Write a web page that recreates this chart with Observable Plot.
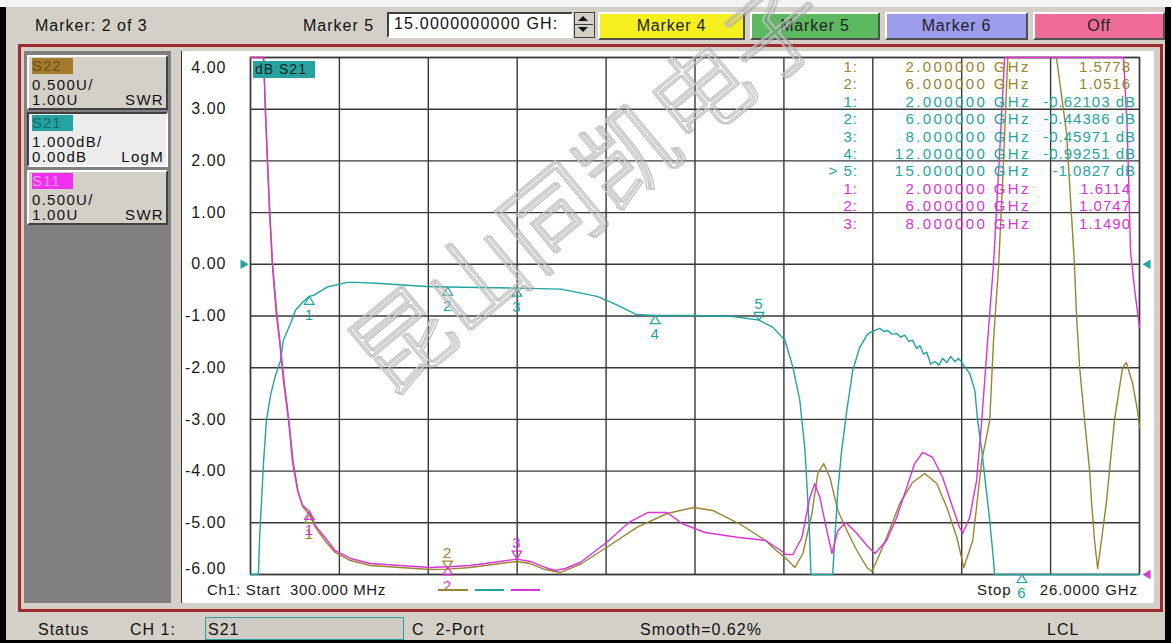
<!DOCTYPE html>
<html>
<head>
<meta charset="utf-8">
<script src="https://cdn.jsdelivr.net/npm/d3@7"></script>
<script src="https://cdn.jsdelivr.net/npm/@observablehq/plot@0.6"></script>
<style>
html,body{margin:0;padding:0;}
body{width:1171px;height:643px;overflow:hidden;position:relative;background:#d4d0c8;font-family:"Liberation Sans",Arial,sans-serif;color:#111;}
.a{position:absolute;white-space:pre;}
.tt{font-size:16px;letter-spacing:1px;line-height:18px;}
.btn{position:absolute;top:12px;height:24px;border:2px solid;border-color:#fff #505050 #505050 #fff;font-size:16px;letter-spacing:0.8px;text-align:center;line-height:24px;color:#222;}
.tb{position:absolute;left:27px;width:137px;height:51px;border:2px solid;border-color:#fff #404040 #404040 #fff;background:#d4d0c8;}
.lbl{position:absolute;left:3px;top:1px;width:41px;height:16px;font-size:15px;letter-spacing:1px;line-height:16px;}
.tl{position:absolute;font-size:15px;letter-spacing:1.3px;line-height:14px;color:#111;}
#chart{position:absolute;left:182px;top:51px;}
#chart svg text{letter-spacing:1px;}
</style>
</head>
<body>
<!-- window chrome -->
<div class="a" style="left:0;top:0;width:1171px;height:7px;background:#f4f4f4"></div>
<div class="a" style="left:0;top:7px;width:6px;height:636px;background:#000"></div>
<div class="a" style="left:1165px;top:7px;width:6px;height:636px;background:#000"></div>
<div class="a" style="left:0;top:640px;width:1171px;height:3px;background:#000"></div>

<!-- toolbar -->
<div class="a tt" style="left:35px;top:17px">Marker: 2 of 3</div>
<div class="a tt" style="left:303px;top:17px">Marker 5</div>
<div class="a" style="left:387px;top:12px;width:182px;height:22px;background:#fff;border:2px solid;border-color:#404040 #fff #fff #404040"></div>
<div class="a tt" style="left:394px;top:15px;letter-spacing:1.2px">15.0000000000 GH:</div>
<div class="a" style="left:574px;top:12px;width:19px;height:24px;background:#d4d0c8;border:1px solid #404040"></div>
<div class="a" style="left:578px;top:16px;width:0;height:0;border-left:5px solid transparent;border-right:5px solid transparent;border-bottom:5px solid #111"></div>
<div class="a" style="left:578px;top:27px;width:0;height:0;border-left:5px solid transparent;border-right:5px solid transparent;border-top:5px solid #111"></div>
<div class="a" style="left:575px;top:24px;width:18px;height:1px;background:#404040"></div>
<div class="btn" style="left:598px;width:143px;background:#f6f01e">Marker 4</div>
<div class="btn" style="left:750px;width:126px;background:#5cb960">Marker 5</div>
<div class="btn" style="left:885px;width:139px;background:#9c9ced">Marker 6</div>
<div class="btn" style="left:1033px;width:128px;background:#ef6b98">Off</div>

<!-- main frame -->
<div class="a" style="left:18px;top:44px;width:1139px;height:562px;border:3px solid #9a2c2c;box-shadow:inset 0 0 0 1px #e6c4c4"></div>
<div class="a" style="left:24px;top:51px;width:147px;height:552px;background:#808080"></div>
<div class="a" style="left:181px;top:51px;width:972px;height:552px;background:#fff;border-left:1px solid #333"></div>

<!-- trace boxes -->
<div class="tb" style="top:55px">
  <div class="lbl" style="background:#a47b2c;color:#6e4c10">S22</div>
  <div class="tl" style="left:3px;top:21px">0.500U/</div>
  <div class="tl" style="left:3px;top:36px">1.00U</div>
  <div class="tl" style="right:2px;top:36px">SWR</div>
</div>
<div class="tb" style="top:112px;background:#ececec;border-color:#404040 #fff #fff #404040">
  <div class="lbl" style="background:#24a3a0;color:#126a68">S21</div>
  <div class="tl" style="left:3px;top:21px">1.000dB/</div>
  <div class="tl" style="left:3px;top:36px">0.00dB</div>
  <div class="tl" style="right:2px;top:36px">LogM</div>
</div>
<div class="tb" style="top:170px">
  <div class="lbl" style="background:#f030f0;color:#ff9cff">S11</div>
  <div class="tl" style="left:3px;top:21px">0.500U/</div>
  <div class="tl" style="left:3px;top:36px">1.00U</div>
  <div class="tl" style="right:2px;top:36px">SWR</div>
</div>

<div id="chart"></div>
<div id="overlay"></div>

<!-- status bar -->
<div class="a" style="left:6px;top:612px;width:1159px;height:28px;background:#d4d0c8"></div>
<div class="a tt" style="left:38px;top:621px">Status</div>
<div class="a tt" style="left:130px;top:621px">CH 1:</div>
<div class="a" style="left:205px;top:617px;width:197px;height:21px;border:1px solid #2aa3a0;background:#d0ccc4"></div>
<div class="a tt" style="left:208px;top:621px">S21</div>
<div class="a tt" style="left:412px;top:621px">C  2-Port</div>
<div class="a tt" style="left:640px;top:621px">Smooth=0.62%</div>
<div class="a tt" style="left:1047px;top:621px">LCL</div>

<svg id="wm" class="a" style="left:0;top:0;pointer-events:none" width="1171" height="643"></svg>

<script>
// ---------- data ----------
const startGHz = 0.3, stopGHz = 26;
const dispTop = 4, dispBottom = -6;
const swrRef = 1.0, swrPerDiv = 0.5;

const yTickValues = [4, 3, 2, 1, 0, -1, -2, -3, -4, -5, -6];
const yTickLabels = ["4.00", "3.00", "2.00", "1.00", "0.00", "-1.00", "-2.00", "-3.00", "-4.00", "-5.00", "-6.00"];

// S21 (LogM, dB)
const freqS21 = [0.30,0.53,0.56,0.62,0.68,0.76,0.88,1.02,1.17,1.25,1.46,1.60,1.80,2.00,2.12,2.52,3.10,3.39,4.05,5.38,6.00,6.94,8.00,9.28,10.32,10.84,11.45,12.00,13.12,14.25,15.00,15.40,15.75,15.98,16.18,16.33,16.41,16.47,16.50,17.13,17.19,17.28,17.39,17.54,17.71,17.91,18.12,18.20,18.35,18.49,18.61,18.72,18.84,18.98,19.10,19.21,19.33,19.44,19.56,19.65,19.76,19.85,19.96,20.08,20.20,20.31,20.43,20.54,20.66,20.77,20.86,21.09,21.24,21.32,21.44,21.67,21.78,21.81,26.00];
const dbS21 = [-8,-8,-5.34,-4.56,-3.79,-3.02,-2.53,-2.15,-1.86,-1.47,-1.14,-0.89,-0.74,-0.62,-0.60,-0.44,-0.35,-0.35,-0.37,-0.43,-0.44,-0.45,-0.46,-0.48,-0.62,-0.77,-0.97,-0.99,-0.99,-1.01,-1.08,-1.22,-1.47,-1.99,-2.63,-3.60,-4.56,-5.34,-8,-8,-5.34,-4.37,-3.60,-2.82,-2.05,-1.61,-1.37,-1.32,-1.28,-1.24,-1.30,-1.28,-1.35,-1.34,-1.41,-1.37,-1.49,-1.47,-1.63,-1.57,-1.74,-1.70,-1.93,-1.88,-1.95,-1.82,-1.90,-1.78,-1.88,-1.82,-1.90,-2.11,-2.44,-3.02,-3.60,-4.95,-5.73,-8,-8];

// S11 (SWR)
const freqS11 = [0.30,0.65,0.68,0.73,0.79,0.85,0.93,1.05,1.14,1.25,1.40,1.51,1.66,1.80,2.00,2.18,2.47,2.75,3.19,3.77,4.63,5.50,6.00,6.65,7.52,8.00,8.38,8.82,9.11,9.40,9.83,10.59,11.24,11.79,12.34,12.77,13.44,14.42,15.19,15.63,15.78,15.98,16.24,16.47,16.61,16.76,16.96,17.11,17.28,17.51,17.83,18.12,18.35,18.69,18.98,19.27,19.50,19.73,20.02,20.31,20.60,20.80,20.89,21.09,21.29,21.44,21.61,21.78,21.96,22.10,23.80,25.54,25.65,25.74,25.86,26.00];
const swrS11 = [7.0,6.1,6.0,5.49,5.00,4.50,4.00,3.50,3.26,2.88,2.49,2.10,1.81,1.67,1.6114,1.47,1.35,1.23,1.155,1.106,1.087,1.068,1.0747,1.087,1.126,1.149,1.126,1.068,1.039,1.058,1.116,1.309,1.503,1.600,1.600,1.493,1.406,1.358,1.329,1.232,1.193,1.193,1.358,1.745,1.880,1.745,1.426,1.203,1.426,1.503,1.397,1.280,1.203,1.329,1.551,1.841,2.073,2.180,2.132,1.938,1.648,1.455,1.397,1.551,1.909,2.489,3.263,4.00,5.10,6.0,7.5,6.05,5.27,4.13,3.75,3.39];

// S22 (SWR)
const freqS22 = [0.30,0.66,0.68,0.73,0.79,0.86,0.94,1.07,1.15,1.27,1.41,1.53,1.67,1.82,2.00,2.18,2.47,2.75,3.19,3.77,4.63,5.50,6.00,6.65,7.52,8.00,8.38,8.82,9.25,9.83,10.59,11.47,12.34,13.11,13.66,14.42,15.19,15.40,15.78,16.04,16.27,16.53,16.70,16.87,17.05,17.28,17.54,17.83,18.12,18.26,18.41,18.69,19.07,19.44,19.79,20.14,20.43,20.72,20.92,21.18,21.44,21.67,21.78,21.93,22.07,22.19,22.90,23.60,23.89,24.12,24.18,24.27,24.41,24.56,24.61,24.70,24.79,24.90,25.05,25.13,25.28,25.51,25.62,25.80,25.94,26.00];
const swrS22 = [7.0,6.1,6.0,5.49,5.00,4.50,4.00,3.50,3.26,2.88,2.49,2.10,1.81,1.65,1.5778,1.455,1.319,1.213,1.135,1.087,1.068,1.048,1.0516,1.068,1.106,1.126,1.106,1.048,1.019,1.097,1.261,1.455,1.590,1.648,1.619,1.493,1.329,1.261,1.155,1.068,1.203,1.590,1.977,2.073,1.938,1.619,1.426,1.232,1.068,1.029,1.135,1.358,1.687,1.890,1.977,1.880,1.648,1.358,1.068,1.329,2.103,2.489,3.263,4.00,5.00,6.0,7.5,6.0,5.27,4.00,3.50,3.00,2.50,2.00,1.716,1.329,1.058,1.329,1.716,2.00,2.50,3.00,3.05,2.85,2.59,2.42];

// marker table
const markerTrace = ["S22","S22","S21","S21","S21","S21","S21","S11","S11","S11"];
const markerNum   = ["1","2","1","2","3","4","5","1","2","3"];
const markerFreq  = [2, 6, 2, 6, 8, 12, 15, 2, 6, 8];
const markerVal   = [1.5778, 1.0516, -0.62103, -0.44386, -0.45971, -0.99251, -1.0827, 1.6114, 1.0747, 1.1490];
const activeMarker = {S22: "2", S21: "5", S11: "3"};
const offScreenMarkerTrace = ["S21"];
const offScreenMarkerNum = ["6"];
const offScreenMarkerFreq = [22.6];

const traceColor = {S22: "#9a8431", S21: "#1fa4a0", S11: "#d934d6"};
const traceKind = {S22: "swr", S21: "db", S11: "swr"};

// ---------- helpers ----------
const clampDisp = v => Math.max(dispBottom, Math.min(dispTop, v));
const swrDisp = s => dispBottom + (s - swrRef) / swrPerDiv;
const toDisp = (trace, v) => clampDisp(traceKind[trace] === "swr" ? swrDisp(v) : v);

const s21 = freqS21.map((f, i) => ({f, y: toDisp("S21", dbS21[i])}));
const s11 = freqS11.map((f, i) => ({f, y: toDisp("S11", swrS11[i])}));
const s22 = freqS22.map((f, i) => ({f, y: toDisp("S22", swrS22[i])}));

const markers = markerTrace.map((t, i) => ({trace: t, num: markerNum[i], f: markerFreq[i], v: markerVal[i], y: toDisp(t, markerVal[i])}));
const offMarkers = offScreenMarkerTrace.map((t, i) => ({trace: t, num: offScreenMarkerNum[i], f: offScreenMarkerFreq[i], y: dispBottom}));
const allMarkers = markers.concat(offMarkers);
const isActive = m => activeMarker[m.trace] === m.num;

function tri(dir) {
  return {draw(ctx, size) {
    const r = Math.sqrt(size / Math.PI), s = r * 2.4, h = r * 2.0;
    ctx.moveTo(0, 0);
    if (dir === "up") { ctx.lineTo(-s/2, h); ctx.lineTo(s/2, h); }
    else if (dir === "down") { ctx.lineTo(-s/2, -h); ctx.lineTo(s/2, -h); }
    else if (dir === "right") { ctx.lineTo(-h, -s/2); ctx.lineTo(-h, s/2); }
    else { ctx.lineTo(h, -s/2); ctx.lineTo(h, s/2); }
    ctx.closePath();
  }};
}

const xDivs = d3.range(11).map(i => startGHz + i * (stopGHz - startGHz) / 10);
const gridColor = "#383838";
const font = "Liberation Sans, Arial, sans-serif";

const markMarks = [];
for (const t of ["S22", "S21", "S11"]) {
  const below = allMarkers.filter(m => m.trace === t && !isActive(m));
  const above = allMarkers.filter(m => m.trace === t && isActive(m));
  markMarks.push(
    Plot.dot(below, {x: "f", y: "y", symbol: tri("up"), r: 4, stroke: traceColor[t], fill: "none", strokeWidth: 1.2}),
    Plot.text(below, {x: "f", y: "y", text: "num", dy: 19, fill: traceColor[t], fontSize: 15, fontFamily: font}),
    Plot.dot(above, {x: "f", y: "y", symbol: tri("down"), r: 4, stroke: traceColor[t], fill: "none", strokeWidth: 1.2}),
    Plot.text(above, {x: "f", y: "y", text: "num", dy: -16, fill: traceColor[t], fontSize: 15, fontFamily: font})
  );
}

const refMarkers = [
  {trace: "S21", side: "left", y: 0},
  {trace: "S21", side: "right", y: 0},
  {trace: "S11", side: "right", y: swrDisp(swrRef)}
];

const chart = Plot.plot({
  width: 970, height: 552,
  marginLeft: 68, marginRight: 13, marginTop: 6, marginBottom: 29,
  x: {domain: [startGHz, stopGHz], axis: null},
  y: {domain: [dispBottom, dispTop], axis: null},
  style: {background: "transparent", overflow: "visible", fontFamily: font},
  marks: [
    Plot.gridX(xDivs, {stroke: gridColor, strokeOpacity: 1, strokeWidth: 1.4}),
    Plot.gridY(yTickValues, {stroke: gridColor, strokeOpacity: 1, strokeWidth: 1.4}),
    Plot.frame({stroke: gridColor, strokeWidth: 1.4}),
    Plot.text(yTickValues, {filter: d => d < dispTop && d > dispBottom, y: d => d, frameAnchor: "left", text: d => yTickLabels[yTickValues.indexOf(d)], textAnchor: "end", dx: -24, fontSize: 16, fill: "#1a1a1a"}),
    Plot.text(yTickValues, {filter: d => d === dispTop, y: d => d, frameAnchor: "left", text: d => yTickLabels[yTickValues.indexOf(d)], textAnchor: "end", dx: -24, dy: 10, fontSize: 16, fill: "#1a1a1a"}),
    Plot.text(yTickValues, {filter: d => d === dispBottom, y: d => d, frameAnchor: "left", text: d => yTickLabels[yTickValues.indexOf(d)], textAnchor: "end", dx: -24, dy: -6, fontSize: 16, fill: "#1a1a1a"}),
    Plot.line(s22, {x: "f", y: "y", stroke: traceColor.S22, strokeWidth: 1.4}),
    Plot.line(s21, {x: "f", y: "y", stroke: traceColor.S21, strokeWidth: 1.4}),
    Plot.line(s11, {x: "f", y: "y", stroke: traceColor.S11, strokeWidth: 1.4}),
    ...markMarks,
    Plot.dot(refMarkers.filter(d => d.side === "left"), {x: () => startGHz, y: "y", symbol: tri("right"), r: 4, fill: d => traceColor[d.trace], dx: -2, stroke: "none"}),
    Plot.dot(refMarkers.filter(d => d.side === "right"), {x: () => stopGHz, y: "y", symbol: tri("left"), r: 4, fill: d => traceColor[d.trace], dx: 3, stroke: "none"})
  ]
});
document.getElementById("chart").appendChild(chart);

// ---------- overlay texts ----------
const ov = document.getElementById("overlay");
function addDiv(html, style) { const d = document.createElement("div"); d.className = "a"; d.style.cssText = style; d.textContent = html; ov.appendChild(d); return d; }
function formatDb(v) { return d3.format(".5")(v).replace("\u2212", "-") + " dB"; }

addDiv("dB S21", "left:253px;top:61px;width:60px;height:17px;background:#27a29f;color:#0b2424;font-size:14px;letter-spacing:1px;line-height:17px;padding-left:2px");

markers.forEach((m, i) => {
  const c = traceColor[m.trace];
  const yc = 67 + 17.4 * i - 8;
  const prefix = isActive(m) && m.trace === "S21" ? "> " : "";
  const isDb = traceKind[m.trace] === "db";
  addDiv(prefix + m.num + ":", `right:${1171 - 858}px;top:${yc}px;color:${c};font-size:15px;letter-spacing:1px;line-height:16px`);
  addDiv(m.f.toFixed(6) + " GHz", `right:${1171 - 1031}px;top:${yc}px;color:${c};font-size:15px;letter-spacing:2.4px;line-height:16px`);
  addDiv(isDb ? formatDb(m.v) : m.v.toFixed(4), `right:${1171 - (isDb ? 1136 : 1131)}px;top:${yc}px;color:${c};font-size:15px;letter-spacing:1px;line-height:16px`);
});

addDiv("Ch1: Start  300.000 MHz", "left:207px;top:581px;font-size:15px;letter-spacing:0.6px;line-height:18px;color:#1a1a1a");
addDiv("Stop", "left:977px;top:581px;font-size:15px;letter-spacing:0.9px;line-height:18px;color:#1a1a1a");
addDiv("26.0000 GHz", "right:33px;top:581px;font-size:15px;letter-spacing:0.9px;line-height:18px;color:#1a1a1a");
// trace line-style legend
addDiv("", `left:438px;top:589px;width:30px;height:2px;background:${traceColor.S22}`);
addDiv("", `left:475px;top:589px;width:29px;height:2px;background:${traceColor.S21}`);
addDiv("", `left:511px;top:589px;width:29px;height:2px;background:${traceColor.S11}`);

// ---------- watermark ----------
const wm = d3.select("#wm");
function watermark(txt, x, y, ang, size) {
  const g = wm.append("g").attr("transform", `translate(${x},${y}) rotate(${ang})`);
  g.append("text").attr("x", 2).attr("y", 2).text(txt)
    .attr("font-family", "Noto Sans CJK SC").attr("font-size", size).attr("font-weight", 300)
    .attr("fill", "none").attr("stroke", "#9a9a9a").attr("stroke-width", 1.6).attr("opacity", 0.55);
  g.append("text").attr("x", 0).attr("y", 0).text(txt)
    .attr("font-family", "Noto Sans CJK SC").attr("font-size", size).attr("font-weight", 300)
    .attr("fill", "none").attr("stroke", "#c4c4c4").attr("stroke-width", 1.6).attr("opacity", 0.9);
}
watermark("昆山同凯电子", 386, 399, -39.6, 97);
</script>
</body>
</html>
